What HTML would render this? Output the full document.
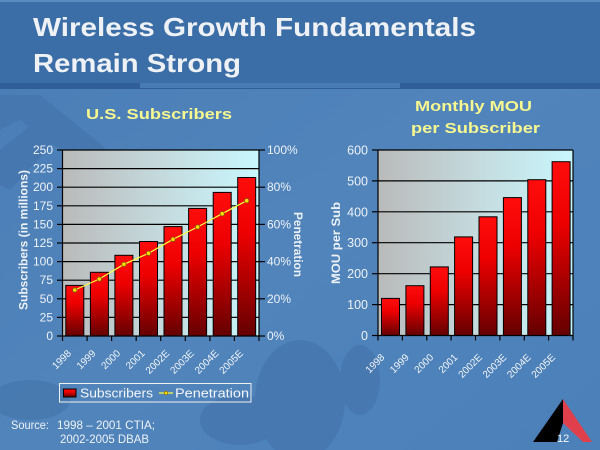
<!DOCTYPE html>
<html><head><meta charset="utf-8"><style>
html,body{margin:0;padding:0;background:#4c7fb7;}
svg{display:block;}
text{font-family:"Liberation Sans",Arial,sans-serif;}
</style></head><body>
<svg width="600" height="450" viewBox="0 0 600 450" xmlns="http://www.w3.org/2000/svg">
<defs>
<linearGradient id="plot" x1="0" y1="0" x2="1" y2="0">
<stop offset="0" stop-color="#bababa"/><stop offset="0.5" stop-color="#c4dadd"/><stop offset="1" stop-color="#c8f7fd"/>
</linearGradient>
<linearGradient id="bar" x1="0" y1="0" x2="0" y2="1">
<stop offset="0" stop-color="#ff0d0d"/><stop offset="0.35" stop-color="#ee0000"/><stop offset="1" stop-color="#640000"/>
</linearGradient>
<linearGradient id="bg" x1="0" y1="0" x2="1" y2="1">
<stop offset="0" stop-color="#4a7db5"/><stop offset="0.5" stop-color="#5084bb"/><stop offset="1" stop-color="#4c80b9"/>
</linearGradient>
</defs>
<!-- background -->
<rect x="0" y="0" width="600" height="450" fill="url(#bg)"/>
<g fill="#3f6ea5" opacity="0.45">
<path d="M0 95 L40 95 L120 160 L95 175 L20 120 L0 130 Z"/>
<path d="M0 150 L50 110 L70 125 L10 190 L0 185 Z"/>
<ellipse cx="300" cy="400" rx="45" ry="60"/>
<ellipse cx="240" cy="420" rx="40" ry="25"/>
<ellipse cx="360" cy="380" rx="20" ry="35"/>
<ellipse cx="30" cy="400" rx="40" ry="20"/>
</g>
<!-- title band -->
<rect x="0" y="0" width="600" height="84" fill="#3b6ea7"/>
<rect x="0" y="0" width="600" height="2" fill="#5a8cc2"/>
<rect x="0" y="83" width="600" height="6" fill="#2f5f96"/>
<rect x="140" y="83" width="260" height="5" fill="#5a8ec4" opacity="0.6"/>
<text x="33" y="36" font-size="26" font-weight="bold" fill="#eef1f6" textLength="443" lengthAdjust="spacingAndGlyphs">Wireless Growth Fundamentals</text>
<text x="33" y="72" font-size="26" font-weight="bold" fill="#eef1f6" textLength="208" lengthAdjust="spacingAndGlyphs">Remain Strong</text>
<!-- subtitles -->
<text x="86" y="119" font-size="15" font-weight="bold" fill="#f8f890" textLength="146" lengthAdjust="spacingAndGlyphs">U.S. Subscribers</text>
<text x="415" y="111" font-size="15" font-weight="bold" fill="#f8f890" textLength="117" lengthAdjust="spacingAndGlyphs">Monthly MOU</text>
<text x="411" y="133" font-size="15" font-weight="bold" fill="#f8f890" textLength="129" lengthAdjust="spacingAndGlyphs">per Subscriber</text>

<!-- LEFT CHART -->
<rect x="62.5" y="150" width="196.5" height="186" fill="url(#plot)"/>
<g stroke="#000" stroke-width="1.2">
<line x1="62.5" y1="150" x2="259" y2="150"/>
<line x1="62.5" y1="168.6" x2="259" y2="168.6"/>
<line x1="62.5" y1="187.2" x2="259" y2="187.2"/>
<line x1="62.5" y1="205.8" x2="259" y2="205.8"/>
<line x1="62.5" y1="224.4" x2="259" y2="224.4"/>
<line x1="62.5" y1="243" x2="259" y2="243"/>
<line x1="62.5" y1="261.6" x2="259" y2="261.6"/>
<line x1="62.5" y1="280.2" x2="259" y2="280.2"/>
<line x1="62.5" y1="298.8" x2="259" y2="298.8"/>
<line x1="62.5" y1="317.4" x2="259" y2="317.4"/>
</g>
<g fill="url(#bar)" stroke="#000" stroke-width="1">
<rect x="65.8" y="285.4" width="18" height="50.6"/>
<rect x="90.4" y="272.3" width="18" height="63.7"/>
<rect x="114.9" y="255.3" width="18" height="80.7"/>
<rect x="139.5" y="241.5" width="18" height="94.5"/>
<rect x="164.0" y="226.6" width="18" height="109.4"/>
<rect x="188.6" y="208.4" width="18" height="127.6"/>
<rect x="213.2" y="192.4" width="18" height="143.6"/>
<rect x="237.7" y="177.5" width="18" height="158.5"/>
</g>
<polyline points="74.8,290 99.3,279 123.9,264.3 148.5,253.3 173,239.3 197.6,227 222.2,213.7 246.7,200.7" fill="none" stroke="#ffff40" stroke-width="1.2"/>
<g fill="#ffdd00" stroke="#7a5a00" stroke-width="0.8">
<circle cx="74.8" cy="290" r="2.2"/><circle cx="99.3" cy="279" r="2.2"/><circle cx="123.9" cy="264.3" r="2.2"/><circle cx="148.5" cy="253.3" r="2.2"/>
<circle cx="173" cy="239.3" r="2.2"/><circle cx="197.6" cy="227" r="2.2"/><circle cx="222.2" cy="213.7" r="2.2"/><circle cx="246.7" cy="200.7" r="2.2"/>
</g>
<g stroke="#000" stroke-width="1.2">
<line x1="62.5" y1="150" x2="62.5" y2="336"/>
<line x1="259" y1="150" x2="259" y2="336"/>
<line x1="62.5" y1="336" x2="259" y2="336"/>
<line x1="57" y1="150" x2="62.5" y2="150"/><line x1="57" y1="168.6" x2="62.5" y2="168.6"/><line x1="57" y1="187.2" x2="62.5" y2="187.2"/>
<line x1="57" y1="205.8" x2="62.5" y2="205.8"/><line x1="57" y1="224.4" x2="62.5" y2="224.4"/><line x1="57" y1="243" x2="62.5" y2="243"/>
<line x1="57" y1="261.6" x2="62.5" y2="261.6"/><line x1="57" y1="280.2" x2="62.5" y2="280.2"/><line x1="57" y1="298.8" x2="62.5" y2="298.8"/>
<line x1="57" y1="317.4" x2="62.5" y2="317.4"/><line x1="57" y1="336" x2="62.5" y2="336"/>
<line x1="259" y1="150" x2="265" y2="150"/><line x1="259" y1="187.2" x2="265" y2="187.2"/><line x1="259" y1="224.4" x2="265" y2="224.4"/>
<line x1="259" y1="261.6" x2="265" y2="261.6"/><line x1="259" y1="298.8" x2="265" y2="298.8"/><line x1="259" y1="336" x2="265" y2="336"/>
<line x1="62.5" y1="336" x2="62.5" y2="341"/><line x1="87.1" y1="336" x2="87.1" y2="341"/><line x1="111.6" y1="336" x2="111.6" y2="341"/>
<line x1="136.2" y1="336" x2="136.2" y2="341"/><line x1="160.7" y1="336" x2="160.7" y2="341"/><line x1="185.3" y1="336" x2="185.3" y2="341"/>
<line x1="209.9" y1="336" x2="209.9" y2="341"/><line x1="234.4" y1="336" x2="234.4" y2="341"/><line x1="259" y1="336" x2="259" y2="341"/>
</g>
<g font-size="12" fill="#eef2f8" text-anchor="end">
<text x="53" y="154">250</text><text x="53" y="172.6">225</text><text x="53" y="191.2">200</text>
<text x="53" y="209.8">175</text><text x="53" y="228.4">150</text><text x="53" y="247">125</text>
<text x="53" y="265.6">100</text><text x="53" y="284.2">75</text><text x="53" y="302.8">50</text>
<text x="53" y="321.4">25</text><text x="53" y="340">0</text>
</g>
<g font-size="12" fill="#eef2f8">
<text x="267" y="154">100%</text><text x="267" y="191.2">80%</text><text x="267" y="228.4">60%</text>
<text x="267" y="265.6">40%</text><text x="267" y="302.8">20%</text><text x="267" y="340">0%</text>
</g>
<text transform="translate(27.5,240) rotate(-90)" text-anchor="middle" font-size="12" font-weight="bold" fill="#eef2f8" textLength="140" lengthAdjust="spacingAndGlyphs">Subscribers (in millions)</text>
<text transform="translate(294,244.5) rotate(90)" text-anchor="middle" font-size="12" font-weight="bold" fill="#eef2f8" textLength="65" lengthAdjust="spacingAndGlyphs">Penetration</text>
<g font-size="10" fill="#f4f6fa" text-anchor="end">
<text transform="translate(71.8,354) rotate(-45)">1998</text>
<text transform="translate(96.3,354) rotate(-45)">1999</text>
<text transform="translate(120.9,354) rotate(-45)">2000</text>
<text transform="translate(145.5,354) rotate(-45)">2001</text>
<text transform="translate(170,354) rotate(-45)">2002E</text>
<text transform="translate(194.6,354) rotate(-45)">2003E</text>
<text transform="translate(219.2,354) rotate(-45)">2004E</text>
<text transform="translate(243.7,354) rotate(-45)">2005E</text>
</g>
<!-- legend -->
<rect x="59.5" y="383.5" width="191.5" height="18.5" fill="none" stroke="#f0f0f0" stroke-width="1"/>
<rect x="63.5" y="389" width="12.5" height="8" fill="url(#bar)" stroke="#000" stroke-width="1"/>
<text x="80" y="397.5" font-size="13" fill="#f4f6fa" textLength="73" lengthAdjust="spacingAndGlyphs">Subscribers</text>
<line x1="159" y1="393" x2="173" y2="393" stroke="#ffff40" stroke-width="1.2"/>
<circle cx="166" cy="393" r="1.8" fill="#ffdd00" stroke="#7a5a00" stroke-width="0.6"/>
<text x="175" y="397.5" font-size="13" fill="#f4f6fa" textLength="74" lengthAdjust="spacingAndGlyphs">Penetration</text>

<!-- RIGHT CHART -->
<rect x="378" y="150" width="195" height="185.5" fill="url(#plot)"/>
<g stroke="#000" stroke-width="1.2">
<line x1="378" y1="150" x2="573" y2="150"/>
<line x1="378" y1="180.9" x2="573" y2="180.9"/>
<line x1="378" y1="211.8" x2="573" y2="211.8"/>
<line x1="378" y1="242.7" x2="573" y2="242.7"/>
<line x1="378" y1="273.7" x2="573" y2="273.7"/>
<line x1="378" y1="304.6" x2="573" y2="304.6"/>
</g>
<g fill="url(#bar)" stroke="#000" stroke-width="1">
<rect x="381.5" y="298.4" width="18" height="37.1"/>
<rect x="405.9" y="285.7" width="18" height="49.8"/>
<rect x="430.3" y="266.9" width="18" height="68.6"/>
<rect x="454.6" y="236.9" width="18" height="98.6"/>
<rect x="479.0" y="216.8" width="18" height="118.7"/>
<rect x="503.4" y="197.6" width="18" height="137.9"/>
<rect x="527.8" y="179.7" width="18" height="155.8"/>
<rect x="552.1" y="161.7" width="18" height="173.8"/>
</g>
<g stroke="#000" stroke-width="1.2">
<line x1="378" y1="150" x2="378" y2="335.5"/>
<line x1="573" y1="150" x2="573" y2="335.5"/>
<line x1="378" y1="335.5" x2="573" y2="335.5"/>
<line x1="372" y1="150" x2="378" y2="150"/><line x1="372" y1="180.9" x2="378" y2="180.9"/><line x1="372" y1="211.8" x2="378" y2="211.8"/>
<line x1="372" y1="242.7" x2="378" y2="242.7"/><line x1="372" y1="273.7" x2="378" y2="273.7"/><line x1="372" y1="304.6" x2="378" y2="304.6"/>
<line x1="372" y1="335.5" x2="378" y2="335.5"/>
<line x1="378" y1="335.5" x2="378" y2="340.5"/><line x1="402.4" y1="335.5" x2="402.4" y2="340.5"/><line x1="426.8" y1="335.5" x2="426.8" y2="340.5"/>
<line x1="451.1" y1="335.5" x2="451.1" y2="340.5"/><line x1="475.5" y1="335.5" x2="475.5" y2="340.5"/><line x1="499.9" y1="335.5" x2="499.9" y2="340.5"/>
<line x1="524.3" y1="335.5" x2="524.3" y2="340.5"/><line x1="548.6" y1="335.5" x2="548.6" y2="340.5"/><line x1="573" y1="335.5" x2="573" y2="340.5"/>
</g>
<g font-size="12.5" fill="#eef2f8" text-anchor="end">
<text x="368" y="154.5">600</text><text x="368" y="185.4">500</text><text x="368" y="216.3">400</text>
<text x="368" y="247.2">300</text><text x="368" y="278.2">200</text><text x="368" y="309.1">100</text>
<text x="368" y="340">0</text>
</g>
<text transform="translate(340,243) rotate(-90)" text-anchor="middle" font-size="12" font-weight="bold" fill="#eef2f8" textLength="82" lengthAdjust="spacingAndGlyphs">MOU per Sub</text>
<g font-size="10" fill="#f4f6fa" text-anchor="end">
<text transform="translate(385.2,358) rotate(-45)">1998</text>
<text transform="translate(409.6,358) rotate(-45)">1999</text>
<text transform="translate(434,358) rotate(-45)">2000</text>
<text transform="translate(458.3,358) rotate(-45)">2001</text>
<text transform="translate(482.7,358) rotate(-45)">2002E</text>
<text transform="translate(507.1,358) rotate(-45)">2003E</text>
<text transform="translate(531.5,358) rotate(-45)">2004E</text>
<text transform="translate(555.8,358) rotate(-45)">2005E</text>
</g>

<!-- source -->
<g font-size="12" fill="#eef2f8">
<text x="11" y="429" textLength="38" lengthAdjust="spacingAndGlyphs">Source:</text>
<text x="57" y="429" textLength="98" lengthAdjust="spacingAndGlyphs">1998 – 2001 CTIA;</text>
<text x="60" y="443" textLength="89" lengthAdjust="spacingAndGlyphs">2002-2005 DBAB</text>
</g>
<!-- logo -->
<polygon points="563,399 563,423 557,442 533,442" fill="#000"/>
<polygon points="563,399 592,442 583,442 563,423" fill="#e0404c"/>
<text x="557" y="442" font-size="11" fill="#f4f6fa">12</text>
</svg>
</body></html>
